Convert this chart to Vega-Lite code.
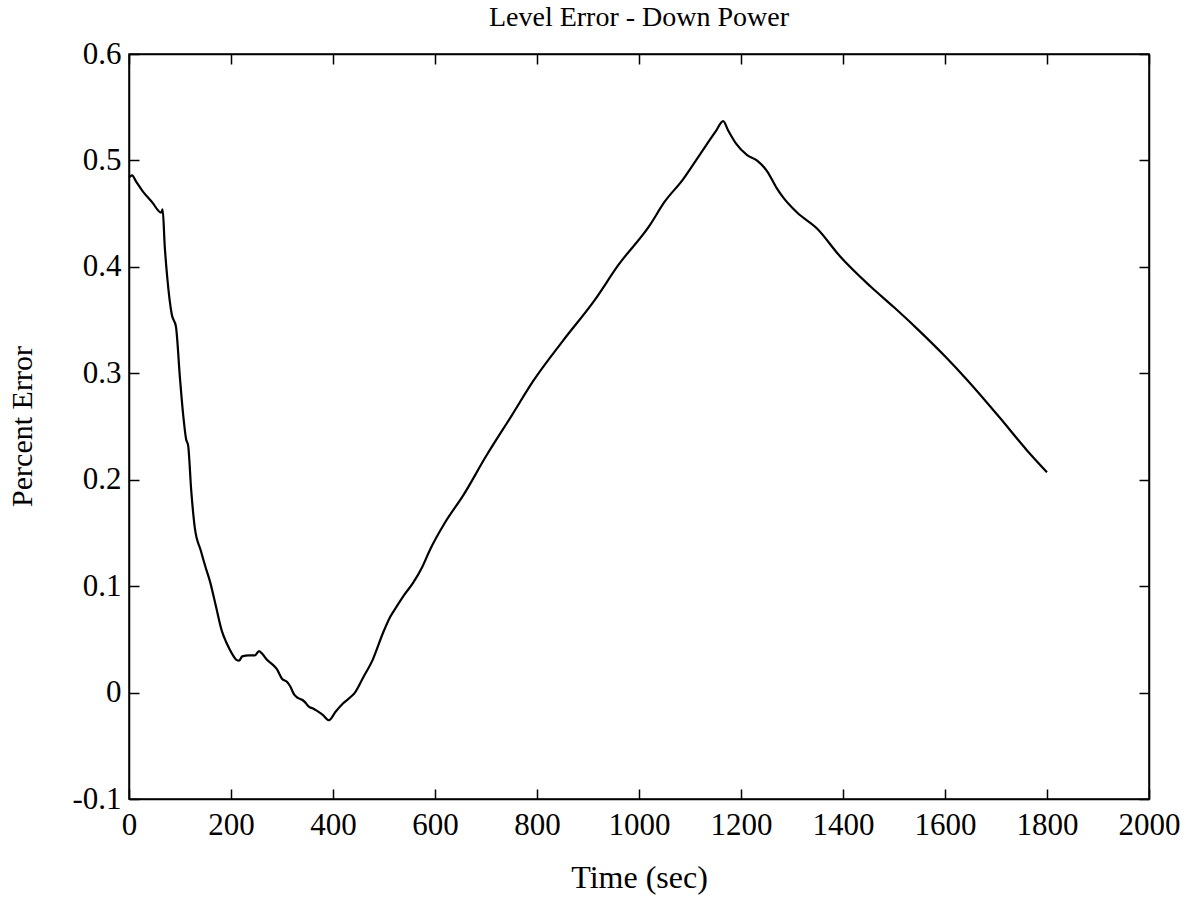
{
  "$schema": "https://vega.github.io/schema/vega-lite/v6.json",
  "width": 1020,
  "height": 745,
  "autosize": {"type": "none"},
  "padding": {"left": 129, "top": 54, "right": 38, "bottom": 104},
  "background": "white",
  "config": {
    "view": {"stroke": "black", "strokeWidth": 1.5},
    "font": "Liberation Serif",
    "axis": {"grid": false, "domainColor": "black", "domainWidth": 1.5, "tickColor": "black", "tickWidth": 1.5, "labelColor": "black", "titleColor": "black", "labelFont": "Liberation Serif", "titleFont": "Liberation Serif", "titleFontWeight": "normal"}
  },
  "title": {"text": "Level Error - Down Power", "font": "Liberation Serif", "fontSize": 28, "fontWeight": "normal", "color": "black", "anchor": "middle", "offset": 6},
  "data": {"values": [
    {"t": 0, "v": 0.484}, {"t": 6, "v": 0.486}, {"t": 14, "v": 0.480}, {"t": 27, "v": 0.471}, {"t": 45, "v": 0.461},
    {"t": 63, "v": 0.451}, {"t": 66, "v": 0.454}, {"t": 70, "v": 0.42}, {"t": 75, "v": 0.39}, {"t": 84, "v": 0.355},
    {"t": 92, "v": 0.344}, {"t": 100, "v": 0.295}, {"t": 106, "v": 0.262}, {"t": 112, "v": 0.238}, {"t": 116, "v": 0.232},
    {"t": 122, "v": 0.19}, {"t": 129, "v": 0.155}, {"t": 141, "v": 0.133}, {"t": 150, "v": 0.118}, {"t": 159, "v": 0.104},
    {"t": 170, "v": 0.082}, {"t": 182, "v": 0.058}, {"t": 190, "v": 0.048}, {"t": 197, "v": 0.041}, {"t": 204, "v": 0.035},
    {"t": 210, "v": 0.031}, {"t": 216, "v": 0.030}, {"t": 222, "v": 0.034}, {"t": 235, "v": 0.035}, {"t": 247, "v": 0.035},
    {"t": 255, "v": 0.039}, {"t": 262, "v": 0.036}, {"t": 270, "v": 0.031}, {"t": 280, "v": 0.027}, {"t": 290, "v": 0.022},
    {"t": 300, "v": 0.013}, {"t": 310, "v": 0.010}, {"t": 316, "v": 0.006}, {"t": 324, "v": -0.002}, {"t": 331, "v": -0.005},
    {"t": 340, "v": -0.007}, {"t": 345, "v": -0.009}, {"t": 352, "v": -0.013}, {"t": 361, "v": -0.015}, {"t": 368, "v": -0.017},
    {"t": 380, "v": -0.021}, {"t": 392, "v": -0.026}, {"t": 405, "v": -0.018}, {"t": 420, "v": -0.010}, {"t": 435, "v": -0.004},
    {"t": 443, "v": 0.0}, {"t": 459, "v": 0.014}, {"t": 478, "v": 0.031}, {"t": 498, "v": 0.056}, {"t": 512, "v": 0.071},
    {"t": 525, "v": 0.081}, {"t": 540, "v": 0.092}, {"t": 557, "v": 0.103}, {"t": 575, "v": 0.118}, {"t": 590, "v": 0.134},
    {"t": 620, "v": 0.160}, {"t": 655, "v": 0.185}, {"t": 700, "v": 0.222}, {"t": 750, "v": 0.260}, {"t": 793, "v": 0.293},
    {"t": 850, "v": 0.330}, {"t": 912, "v": 0.368}, {"t": 960, "v": 0.402}, {"t": 1021, "v": 0.439}, {"t": 1050, "v": 0.461},
    {"t": 1086, "v": 0.482}, {"t": 1120, "v": 0.506}, {"t": 1150, "v": 0.527}, {"t": 1165, "v": 0.537}, {"t": 1175, "v": 0.528},
    {"t": 1190, "v": 0.516}, {"t": 1212, "v": 0.505}, {"t": 1231, "v": 0.500}, {"t": 1251, "v": 0.490}, {"t": 1270, "v": 0.474},
    {"t": 1283, "v": 0.465}, {"t": 1310, "v": 0.451}, {"t": 1349, "v": 0.436}, {"t": 1394, "v": 0.410}, {"t": 1453, "v": 0.382},
    {"t": 1500, "v": 0.362}, {"t": 1545, "v": 0.342}, {"t": 1600, "v": 0.316}, {"t": 1643, "v": 0.294}, {"t": 1708, "v": 0.258},
    {"t": 1760, "v": 0.228}, {"t": 1800, "v": 0.207}
  ]},
  "layer": [
    {
      "mark": {"type": "line", "color": "black", "strokeWidth": 2.2, "interpolate": "monotone"},
      "encoding": {
        "x": {"field": "t", "type": "quantitative", "scale": {"domain": [0, 2000], "nice": false, "zero": false},
          "axis": {"orient": "bottom", "values": [0, 200, 400, 600, 800, 1000, 1200, 1400, 1600, 1800, 2000], "format": "d", "tickSize": -10, "labelPadding": 21, "labelFontSize": 31, "labelFlush": false, "labelOverlap": false, "title": "Time (sec)", "titleFontSize": 32, "titleX": 510, "titleY": 78, "titleBaseline": "middle", "titleAlign": "center"}},
        "y": {"field": "v", "type": "quantitative", "scale": {"domain": [-0.1, 0.6], "nice": false, "zero": false},
          "axis": {"orient": "left", "values": [-0.1, 0, 0.1, 0.2, 0.3, 0.4, 0.5, 0.6], "labelExpr": "abs(datum.value) < 1e-9 ? '0' : (datum.value < 0 ? '-' + format(-datum.value, '.1f') : format(datum.value, '.1f'))", "tickSize": -10, "labelPadding": 18, "labelFontSize": 31, "labelFlush": false, "labelOverlap": false, "labelBaseline": "middle", "title": "Percent Error", "titleFontSize": 30, "titleX": -107, "titleY": 372, "titleBaseline": "middle", "titleAlign": "center", "titleAngle": -90}}
      }
    },
    {
      "mark": {"type": "line", "opacity": 0},
      "encoding": {
        "x": {"field": "t", "type": "quantitative", "scale": {"domain": [0, 2000], "nice": false, "zero": false},
          "axis": {"orient": "top", "values": [0, 200, 400, 600, 800, 1000, 1200, 1400, 1600, 1800, 2000], "tickSize": -10, "labels": false, "title": null}},
        "y": {"field": "v", "type": "quantitative", "scale": {"domain": [-0.1, 0.6], "nice": false, "zero": false},
          "axis": {"orient": "right", "values": [-0.1, 0, 0.1, 0.2, 0.3, 0.4, 0.5, 0.6], "tickSize": -10, "labels": false, "title": null}}
      }
    }
  ],
  "resolve": {"axis": {"x": "independent", "y": "independent"}}
}
